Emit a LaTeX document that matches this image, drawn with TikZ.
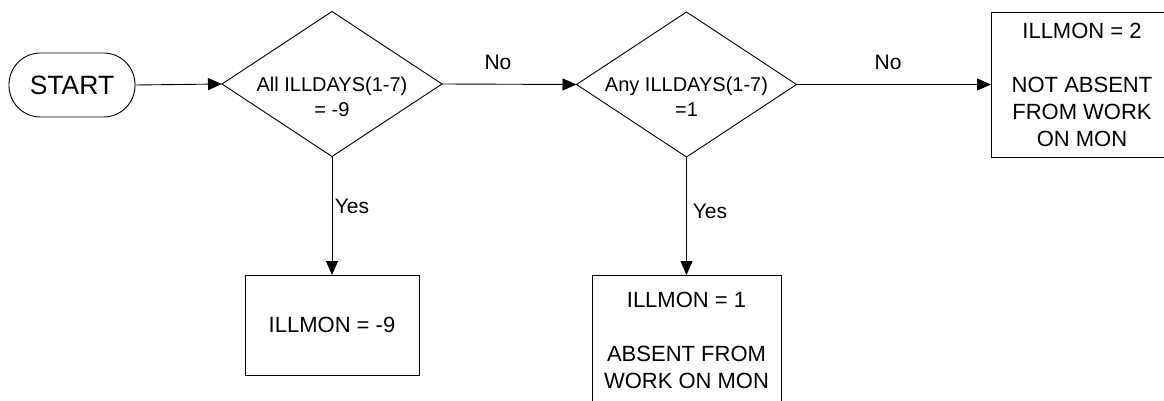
\documentclass[tikz,border=0pt]{standalone}
\usepackage{fontspec}
\setmainfont{Liberation Sans}
\usetikzlibrary{shapes.geometric,arrows.meta}
\begin{document}
\begin{tikzpicture}[x=1pt,y=-1pt,
  every node/.style={inner sep=0pt, outer sep=0pt},
  conn/.style={draw=black, line width=0.9pt, -{Triangle[length=14pt,width=12pt]}},
  dec/.style={diamond, draw, line width=0.9pt, minimum width=220pt, minimum height=145pt},
  termbox/.style={rectangle, draw, line width=0.9pt, rounded corners=31.5pt, minimum width=126pt, minimum height=64pt, font=\fontsize{26.5}{30}\selectfont},
  outbox/.style={rectangle, draw, line width=0.9pt, align=center, font=\fontsize{22}{27}\selectfont},
  dectext/.style={font=\fontsize{20}{25}\selectfont, align=center},
  lbl/.style={font=\fontsize{21}{25}\selectfont}]
\useasboundingbox (0,0) rectangle (1164,401);
\clip (0,0) rectangle (1164,401);
\fill[white] (0,0) rectangle (1164,401);

\node[termbox] (start) at (72,85) {START};

\node[dec] (d1) at (332,84) {};
\node[dectext] (d1t) at (332,97) {All ILLDAYS(1-7)\\= -9};

\node[dec] (d2) at (686.5,84.5) {};
\node[dectext] (d2t) at (686.5,97) {Any ILLDAYS(1-7)\\=1};

\node[outbox, minimum width=174pt, minimum height=100pt] (b9) at (332,325) {ILLMON = -9};
\node[outbox, minimum width=189pt, minimum height=130pt] (b1) at (686.5,340) {ILLMON = 1\\[27pt]ABSENT FROM\\WORK ON MON};
\node[outbox, minimum width=182pt, minimum height=145pt] (b2) at (1082,84.5) {ILLMON = 2\\[27pt]NOT ABSENT\\FROM WORK\\ON MON};

\draw[conn] (start.east) -- (d1.west);
\draw[conn] (d1.east) -- (d2.west);
\draw[conn] (d1.south) -- (b9.north);
\draw[conn] (d2.south) -- (b1.north);
\draw[conn] (d2.east) -- (b2.west);

\node[lbl] (no1) at (498,62) {No};
\node[lbl] (no2) at (888,62) {No};
\node[lbl] (yes1) at (352,206) {Yes};
\node[lbl] (yes2) at (710,211) {Yes};
\end{tikzpicture}
\end{document}
